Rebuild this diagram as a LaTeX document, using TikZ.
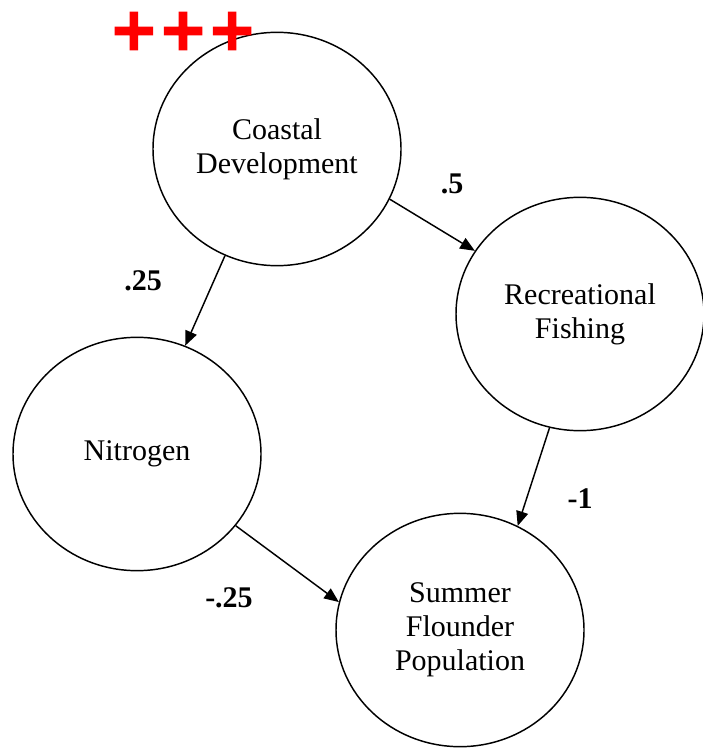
\documentclass[tikz,border=0pt]{standalone}
\usepackage{fontspec}
\setmainfont{Liberation Serif}[Ligatures=TeX]
\newfontfamily\plusfont[FakeBold=3]{DejaVu Sans Bold}
\usetikzlibrary{shapes.geometric,arrows.meta}

\begin{document}
\begin{tikzpicture}[x=0.75pt,y=-0.75pt,
  factor/.style={draw, ellipse, line width=1.1pt, minimum width=186pt,
    minimum height=175pt, inner sep=0pt, align=center,
    font=\rmfamily\fontsize{22.5}{25.5}\selectfont},
  link/.style={-{Triangle[length=11pt,width=9pt]}, line width=1.1pt},
  weight/.style={font=\rmfamily\bfseries\fontsize{22.5}{25.5}\selectfont}]
\useasboundingbox (0,0) rectangle (702,748);

% factors of the model
\node[factor] (cd)  at (277,149) {Coastal\\Development};
\node[factor] (nit) at (137,454) {Nitrogen};
\node[factor] (rf)  at (580,314) {Recreational\\Fishing};
\node[factor] (sf)  at (460,630) {Summer\\Flounder\\Population};

% causal links
\draw[link] (cd.-116) -- (nit.66);
\draw[link] (cd.-24)  -- (rf.149);
\draw[link] (rf.-105) -- (sf.61);
\draw[link] (nit.-36) -- (sf.167);

% link weights
\node[weight] (w-cd-rf)  at (452,184) {.5};
\node[weight] (w-cd-nit) at (143,281) {.25};
\node[weight] (w-rf-sf)  at (580,499) {-1};
\node[weight] (w-nit-sf) at (229,598) {-.25};

% positive marker
\node[text=red, inner sep=0pt, font=\plusfont\fontsize{44}{44}\selectfont]
  (mark) at (183,31) {+++};
\end{tikzpicture}
\end{document}
